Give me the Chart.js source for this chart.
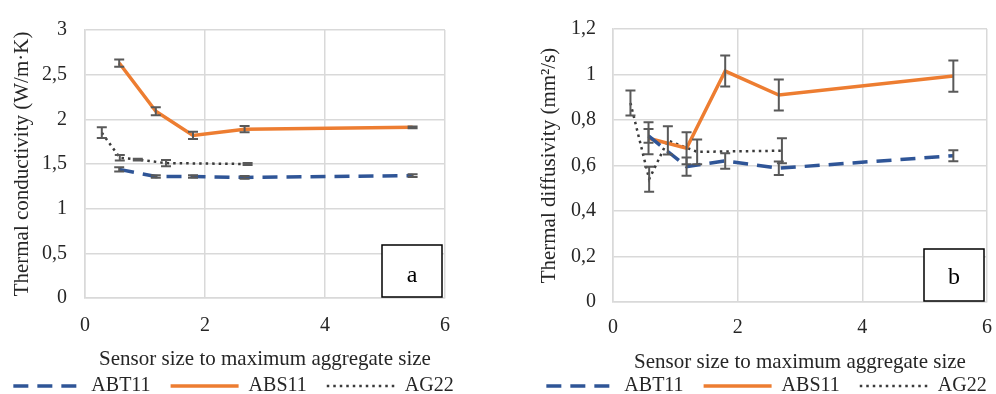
<!DOCTYPE html>
<html>
<head>
<meta charset="utf-8">
<script src="https://cdn.jsdelivr.net/npm/chart.js@4.4.0/dist/chart.umd.min.js"></script>
<style>
  html, body { margin: 0; background: #fff; overflow: hidden; width: 996px; height: 394px; }
  .wrap { position: absolute; top: 0; width: 507px; height: 394px; }
</style>
</head>
<body>
<div class="wrap" style="left:-20px"><canvas id="chartA" width="507" height="394"></canvas></div>
<div class="wrap" style="left:513px"><canvas id="chartB" width="507" height="394"></canvas></div>
<script>
// sensor size / max aggregate size
const sizesAB = [0.57, 1.18, 1.8, 2.66, 5.46];
const sizesAG = [0.28, 0.58, 0.88, 1.35, 2.71];

// (a) thermal conductivity
const condABT11 = [1.44, 1.36, 1.36, 1.35, 1.37];
const condABT11Err = [0.025, 0.015, 0.015, 0.015, 0.015];
const condABS11 = [2.63, 2.09, 1.82, 1.89, 1.91];
const condABS11Err = [0.04, 0.045, 0.04, 0.035, 0.01];
const condAG22 = [1.85, 1.57, 1.55, 1.51, 1.50];
const condAG22Err = [0.06, 0.03, 0.01, 0.035, 0.01];

// (b) thermal diffusivity
const diffABT11 = [0.73, 0.595, 0.62, 0.588, 0.643];
const diffABT11Err = [0.03, 0.04, 0.034, 0.03, 0.024];
const diffABS11 = [0.72, 0.676, 1.015, 0.91, 0.993];
const diffABS11Err = [0.07, 0.07, 0.068, 0.068, 0.069];
const diffAG22 = [0.875, 0.54, 0.71, 0.66, 0.665];
const diffAG22Err = [0.055, 0.055, 0.062, 0.054, 0.055];

const xTickLabels = ['0', '2', '4', '6'];
const yTickLabelsA = ['0', '0,5', '1', '1,5', '2', '2,5', '3'];
const yTickLabelsB = ['0', '0,2', '0,4', '0,6', '0,8', '1', '1,2'];

const fam = '"Liberation Serif", "Times New Roman", serif';
const textColor = '#262626';
const gridColor = '#D9D9D9';

const errorBars = {
  id: 'errorBars',
  afterDatasetsDraw(chart) {
    const { ctx, scales: { x, y } } = chart;
    ctx.save();
    ctx.strokeStyle = '#595959';
    ctx.lineWidth = 2;
    chart.data.datasets.forEach(ds => {
      ds.errors.forEach((e, i) => {
        const px = x.getPixelForValue(ds.data[i].x);
        const top = y.getPixelForValue(ds.data[i].y + e);
        const bot = y.getPixelForValue(ds.data[i].y - e);
        ctx.beginPath();
        ctx.moveTo(px, top); ctx.lineTo(px, bot);
        ctx.moveTo(px - 5, top); ctx.lineTo(px + 5, top);
        ctx.moveTo(px - 5, bot); ctx.lineTo(px + 5, bot);
        ctx.stroke();
      });
    });
    ctx.restore();
  }
};

const panelTag = {
  id: 'panelTag',
  afterDraw(chart, args, opts) {
    const { ctx, chartArea } = chart;
    const w = 60, h = 52;
    const x = chartArea.right - 3 - w;
    const y = chartArea.bottom - 1 - h;
    ctx.save();
    ctx.fillStyle = '#fff';
    ctx.fillRect(x, y, w, h);
    ctx.strokeStyle = '#000';
    ctx.lineWidth = 1.5;
    ctx.strokeRect(x, y, w, h);
    ctx.fillStyle = '#000';
    ctx.font = '24px ' + fam;
    ctx.textAlign = 'center';
    ctx.textBaseline = 'middle';
    ctx.fillText(opts.text, x + w / 2, y + h / 2 + opts.dy);
    ctx.restore();
  }
};

function serie(label, xs, ys, errs, color, dash, width) {
  return {
    label: label,
    data: xs.map((x, i) => ({ x: x, y: ys[i] })),
    errors: errs,
    yAxisID: 'y',
    borderColor: color,
    backgroundColor: color,
    borderWidth: width,
    borderDash: dash,
    pointRadius: 0,
    tension: 0,
    fill: false
  };
}

function criarGrafico(el, o) {
  return new Chart(el, {
    type: 'line',
    data: {
      datasets: [
        serie('ABT11', sizesAB, o.abt, o.abtErr, '#2F5597', [15, 9], 3.5),
        serie('ABS11', sizesAB, o.abs, o.absErr, '#ED7D31', [], 3.5),
        serie('AG22', sizesAG, o.ag, o.agErr, '#3A3A3A', [2.5, 4], 2.5)
      ]
    },
    plugins: [errorBars, panelTag],
    options: {
      responsive: false,
      animation: false,
      layout: { padding: { top: o.top, left: 0, right: 0, bottom: 0 } },
      scales: {
        x: {
          type: 'linear', min: 0, max: 6,
          ticks: { stepSize: 2, padding: o.xTickPad, color: textColor, font: { family: fam, size: 20 },
                   callback: (v, i) => xTickLabels[i] },
          grid: { color: gridColor, lineWidth: 1.5, drawTicks: false },
          border: { color: gridColor, width: 1.5 },
          title: { display: true, text: 'Sensor size to maximum aggregate size', color: textColor,
                   font: { family: fam, size: 21 }, padding: { top: 0, bottom: o.xTitlePad } },
          afterFit: s => { s.height = o.xHeight; }
        },
        y: {
          min: 0, max: o.yMax,
          ticks: { stepSize: o.yStep, padding: o.yTickPad, color: textColor, font: { family: fam, size: 20 },
                   callback: (v, i) => o.yLabels[i] },
          grid: { color: gridColor, lineWidth: 1.5, drawTicks: false },
          border: { color: gridColor, width: 1.5 },
          title: { display: true, text: o.yTitle, color: textColor,
                   font: { family: fam, size: 21 }, padding: { top: o.yTitlePad, bottom: 0 } },
          afterFit: s => { s.width = o.yWidth; }
        },
        // empty right margin
        yr: {
          position: 'right',
          grid: { display: false },
          ticks: { display: false },
          border: { display: false },
          afterFit: s => { s.width = o.rWidth; }
        }
      },
      plugins: {
        legend: {
          position: 'bottom',
          maxHeight: 38,
          labels: {
            usePointStyle: true, pointStyleWidth: 68, padding: 20,
            color: textColor, font: { family: fam, size: 20 },
            generateLabels: chart => chart.data.datasets.map((ds, i) => ({
              text: ds.label,
              datasetIndex: i,
              hidden: false,
              pointStyle: 'line',
              strokeStyle: ds.borderColor,
              fillStyle: ds.borderColor,
              lineWidth: ds.borderWidth,
              lineDash: ds.borderDash,
              fontColor: textColor
            }))
          }
        },
        tooltip: { enabled: false },
        panelTag: { text: o.tag, dy: o.tagDy }
      }
    }
  });
}

criarGrafico(document.getElementById('chartA'), {
  abt: condABT11, abtErr: condABT11Err,
  abs: condABS11, absErr: condABS11Err,
  ag: condAG22, agErr: condAG22Err,
  top: 17,
  xTickPad: 16, xTitlePad: -16, xHeight: 58,
  yMax: 3, yStep: 0.5, yLabels: yTickLabelsA, yTickPad: 18, yWidth: 105, yTitlePad: 30,
  rWidth: 42,
  yTitle: 'Thermal conductivity (W/m·K)', tag: 'a', tagDy: 5
});

criarGrafico(document.getElementById('chartB'), {
  abt: diffABT11, abtErr: diffABT11Err,
  abs: diffABS11, absErr: diffABS11Err,
  ag: diffAG22, agErr: diffAG22Err,
  top: 21,
  xTickPad: 14, xTitlePad: -19, xHeight: 54,
  yMax: 1.2, yStep: 0.2, yLabels: yTickLabelsB, yTickPad: 17, yWidth: 100, yTitlePad: 24,
  rWidth: 33,
  yTitle: 'Thermal diffusivity (mm²/s)', tag: 'b', tagDy: 3
});
</script>
</body>
</html>
